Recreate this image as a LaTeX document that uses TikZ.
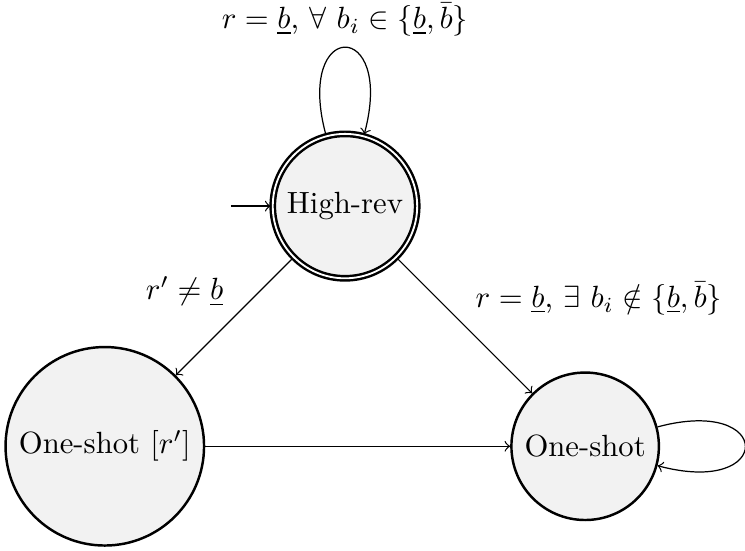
\documentclass[tikz,border=0pt]{standalone}
\usepackage{amsmath,amssymb}
\usepackage{tikz}
\usetikzlibrary{automata, positioning}

\begin{document}
\begin{tikzpicture}[
  every state/.style={draw, thick, fill=gray!10},
  initial text={},
  arr/.style={->},
  node distance=2.75cm, on grid
]
\useasboundingbox (-3.95,-3.94) rectangle (4.58,2.36);

\node[state, initial, accepting] (high) {High-rev};
\node[state, below left=2.75cm and 2.75cm of high] (oneshotr) {One-shot $[r']$};
\node[state, right=5.5cm of oneshotr] (oneshot) {One-shot};

\draw[arr] (high) to[loop above] node[above]
  {$r = \underline{b}$, $\forall\ b_i \in \{\underline{b}, \bar{b}\}$} (high);
\draw[arr] (high) -- node[above left] {$r' \neq \underline{b}$} (oneshotr);
\draw[arr] (high) -- node[above right]
  {$r = \underline{b}$, $\exists\ b_i \notin \{\underline{b}, \bar{b}\}$} (oneshot);
\draw[arr] (oneshotr) -- (oneshot);
\draw[arr] (oneshot) to[loop right] (oneshot);
\end{tikzpicture}
\end{document}
